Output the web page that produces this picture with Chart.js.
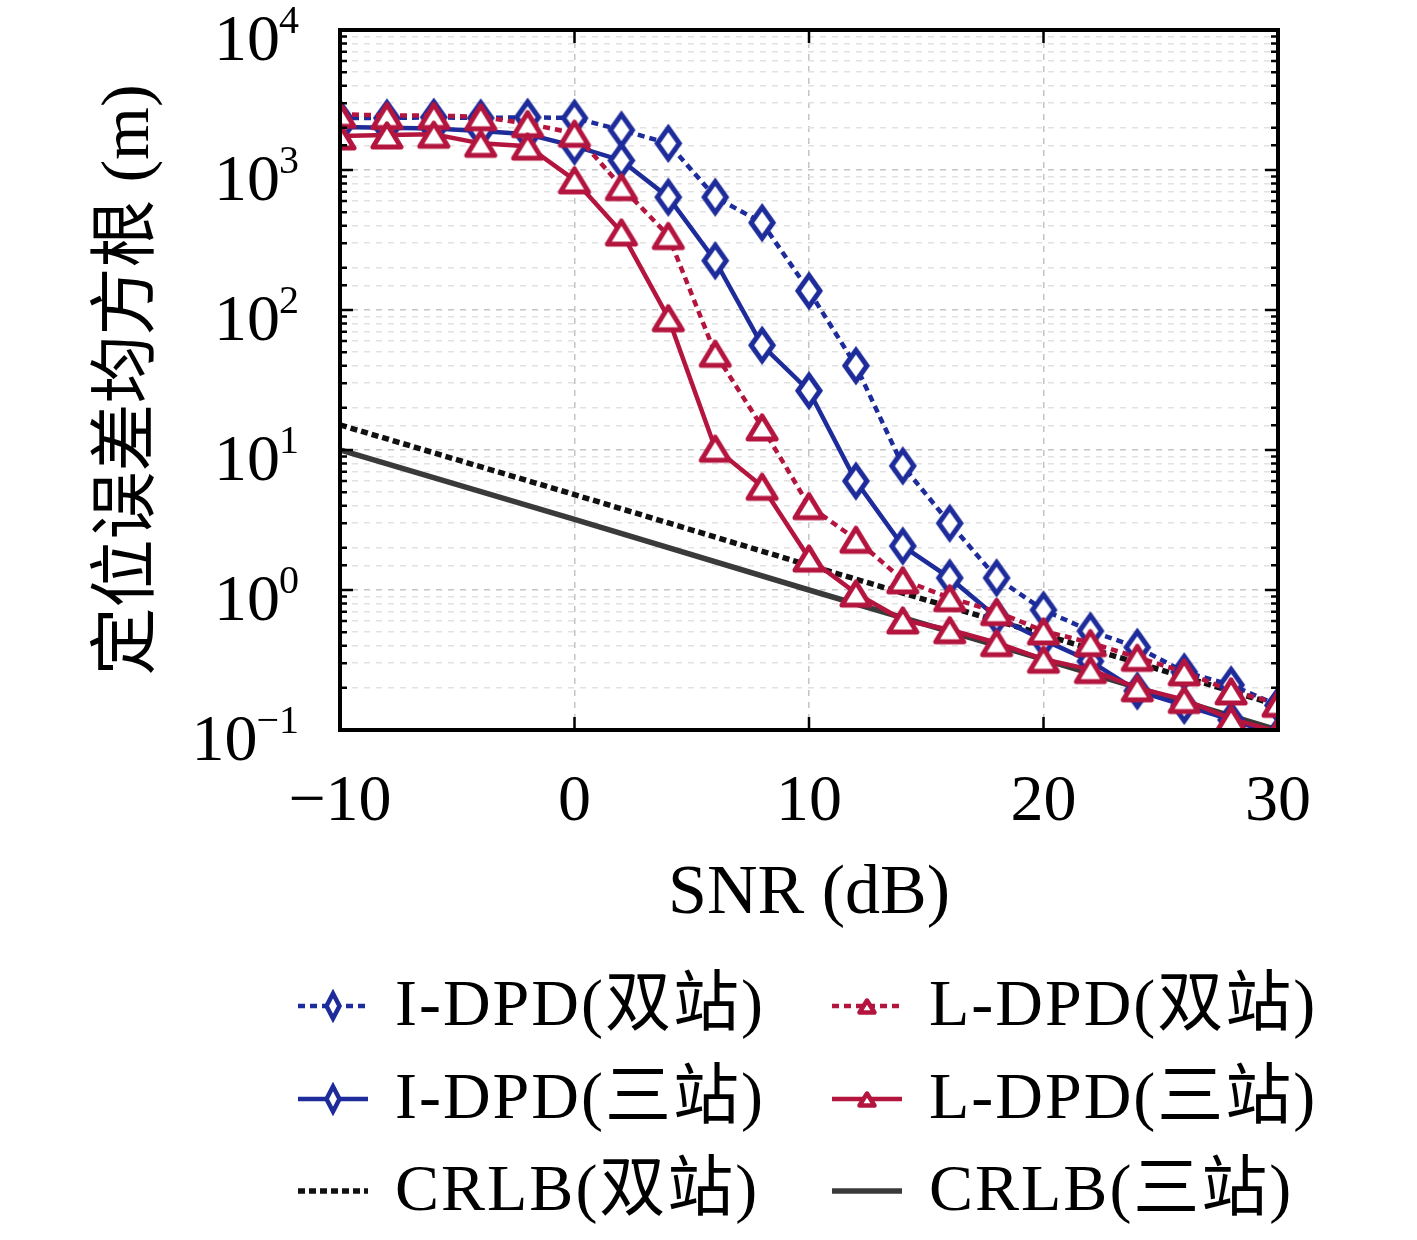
<!DOCTYPE html>
<html>
<head>
<meta charset="utf-8">
<script src="https://cdn.jsdelivr.net/npm/chart.js@4.4.1/dist/chart.umd.min.js"></script>
<style>
  html, body { margin: 0; padding: 0; background: #fff; }
  canvas { display: block; }
</style>
</head>
<body>
<canvas id="rmseChart" width="1417" height="1240"></canvas>
<script>
// SNR (dB) sample points
const snr = [-10, -8, -6, -4, -2, 0, 2, 4, 6, 8, 10, 12, 14, 16, 18, 20, 22, 24, 26, 28, 30];

// RMSE values (m)
const iDpdTwo   = [2350, 2350, 2380, 2350, 2380, 2350, 1930, 1550, 640, 420, 137, 40, 7.7, 3.0, 1.22, 0.72, 0.51, 0.39, 0.26, 0.21, 0.15];
const iDpdThree = [2030, 2000, 1980, 1900, 1800, 1480, 1170, 640, 225, 56, 26.5, 6.0, 2.06, 1.22, 0.64, 0.44, 0.31, 0.19, 0.15, 0.118, 0.092];
const lDpdTwo   = [2500, 2450, 2450, 2400, 2140, 1830, 760, 340, 49, 14.6, 4.0, 2.3, 1.18, 0.88, 0.70, 0.51, 0.42, 0.33, 0.26, 0.19, 0.155];
const lDpdThree = [1750, 1780, 1800, 1550, 1480, 850, 360, 88, 10.3, 5.5, 1.69, 0.95, 0.61, 0.52, 0.42, 0.32, 0.27, 0.20, 0.165, 0.12, 0.097];

// CRLB curves (straight lines on log axis)
const crlbSnr   = [-10, 0, 10, 20, 30];
const crlbTwo   = [15.1, 4.8, 1.5, 0.48, 0.15];
const crlbThree = [10, 3.2, 1.0, 0.32, 0.1];

const xTicks = [-10, 0, 10, 20, 30];
const yDecades = [-1, 0, 1, 2, 3, 4];

const blue = '#1d2c9a';
const red = '#b4153f';
const serif = '"Liberation Serif", "DejaVu Serif", "Noto Sans CJK SC", serif';

function makeDiamond(w, h, color, lw) {
  const c = document.createElement('canvas');
  c.width = w + lw * 2;
  c.height = h + lw * 2;
  const g = c.getContext('2d');
  g.beginPath();
  g.moveTo(c.width / 2, lw);
  g.lineTo(c.width - lw, c.height / 2);
  g.lineTo(c.width / 2, c.height - lw);
  g.lineTo(lw, c.height / 2);
  g.closePath();
  g.fillStyle = '#fff';
  g.fill();
  g.lineWidth = lw;
  g.strokeStyle = color;
  g.stroke();
  return c;
}

function makeTriangle(w, h, color, lw) {
  const c = document.createElement('canvas');
  c.width = w + lw * 2;
  c.height = h + lw * 2;
  const g = c.getContext('2d');
  g.beginPath();
  g.moveTo(c.width / 2, lw + 1);
  g.lineTo(c.width - lw, c.height - lw);
  g.lineTo(lw, c.height - lw);
  g.closePath();
  g.fillStyle = '#fff';
  g.fill();
  g.lineWidth = lw;
  g.lineJoin = 'round';
  g.strokeStyle = color;
  g.stroke();
  return c;
}

const diamondBig = makeDiamond(22, 31, blue, 5);
const triangleBig = makeTriangle(28, 24, red, 5);
const diamondSmall = makeDiamond(13, 25, blue, 4.5);
const triangleSmall = makeTriangle(15, 13, red, 4.5);

const toPoints = (xs, ys) => xs.map((x, i) => ({ x: x, y: ys[i] }));

// order: lower value drawn on top
const series = [
  { label: 'I-DPD(双站)', data: toPoints(snr, iDpdTwo), color: blue, dash: [7, 5], width: 4.5, marker: diamondBig, legendMarker: diamondSmall, order: 3 },
  { label: 'L-DPD(双站)', data: toPoints(snr, lDpdTwo), color: red, dash: [7, 5], width: 4.5, marker: triangleBig, legendMarker: triangleSmall, order: 1 },
  { label: 'I-DPD(三站)', data: toPoints(snr, iDpdThree), color: blue, dash: [], width: 4.5, marker: diamondBig, legendMarker: diamondSmall, order: 2 },
  { label: 'L-DPD(三站)', data: toPoints(snr, lDpdThree), color: red, dash: [], width: 4.5, marker: triangleBig, legendMarker: triangleSmall, order: 0 },
  { label: 'CRLB(双站)', data: toPoints(crlbSnr, crlbTwo), color: '#111', dash: [7, 4], width: 5.5, marker: false, legendMarker: null, order: 5 },
  { label: 'CRLB(三站)', data: toPoints(crlbSnr, crlbThree), color: '#3a3a3a', dash: [], width: 5.5, marker: false, legendMarker: null, order: 4 }
];

const datasets = series.map(s => ({
  label: s.label,
  data: s.data,
  borderColor: s.color,
  borderWidth: s.width,
  borderDash: s.dash,
  pointStyle: s.marker || 'circle',
  pointRadius: s.marker ? 12 : 0,
  pointHoverRadius: s.marker ? 12 : 0,
  backgroundColor: '#fff',
  tension: 0,
  fill: false,
  order: s.order
}));

// frame, inward ticks, y labels with exponents, legend
const decorPlugin = {
  id: 'decor',
  afterDraw(chart) {
    const { ctx, chartArea: a } = chart;
    const xs = chart.scales.x;
    const ys = chart.scales.y;
    ctx.save();

    // inward tick marks
    ctx.strokeStyle = '#000';
    ctx.lineWidth = 2.5;
    ctx.setLineDash([]);
    xTicks.forEach(v => {
      const px = xs.getPixelForValue(v);
      ctx.beginPath();
      ctx.moveTo(px, a.bottom); ctx.lineTo(px, a.bottom - 13);
      ctx.moveTo(px, a.top); ctx.lineTo(px, a.top + 13);
      ctx.stroke();
    });
    ys.ticks.forEach(t => {
      const py = ys.getPixelForValue(t.value);
      const e = Math.log10(t.value);
      const len = Math.abs(e - Math.round(e)) < 1e-6 ? 13 : 7;
      ctx.beginPath();
      ctx.moveTo(a.left, py); ctx.lineTo(a.left + len, py);
      ctx.moveTo(a.right, py); ctx.lineTo(a.right - len, py);
      ctx.stroke();
    });

    // box
    ctx.lineWidth = 4;
    ctx.strokeRect(a.left, a.top, a.right - a.left, a.bottom - a.top);

    // y tick labels 10^n
    ctx.fillStyle = '#000';
    yDecades.forEach(e => {
      const py = ys.getPixelForValue(Math.pow(10, e));
      const expText = e < 0 ? '\u2212' + Math.abs(e) : String(e);
      ctx.font = '40px ' + serif;
      const expW = ctx.measureText(expText).width;
      const expRight = a.left - 41;
      ctx.textAlign = 'left';
      ctx.textBaseline = 'alphabetic';
      ctx.fillText(expText, expRight - expW, py + 3);
      ctx.font = '66px ' + serif;
      ctx.textAlign = 'right';
      ctx.fillText('10', expRight - expW + 1, py + 30);
    });

    // legend, two columns by three rows
    const cols = [298, 832];
    const rows = [1006, 1099, 1191];
    chart.data.datasets.forEach((ds, i) => {
      const s = series[i];
      const x0 = cols[i % 2];
      const y0 = rows[Math.floor(i / 2)];
      ctx.strokeStyle = s.color;
      ctx.lineWidth = s.width;
      ctx.setLineDash(s.dash);
      ctx.beginPath();
      ctx.moveTo(x0, y0); ctx.lineTo(x0 + 70, y0);
      ctx.stroke();
      ctx.setLineDash([]);
      if (s.legendMarker) {
        const m = s.legendMarker;
        ctx.drawImage(m, x0 + 35 - m.width / 2, y0 - m.height / 2);
      }
      ctx.fillStyle = '#000';
      ctx.font = '66px ' + serif;
      ctx.letterSpacing = '2px';
      ctx.textAlign = 'left';
      ctx.textBaseline = 'middle';
      ctx.fillText(ds.label, x0 + 97, y0 + 2);
      ctx.letterSpacing = '0px';
    });

    ctx.restore();
  }
};

const ctx = document.getElementById('rmseChart').getContext('2d');
new Chart(ctx, {
  type: 'line',
  data: { datasets: datasets },
  options: {
    responsive: false,
    animation: false,
    layout: { padding: { left: 0, top: 30, right: 139, bottom: 310 } },
    plugins: {
      legend: { display: false },
      tooltip: { enabled: false }
    },
    scales: {
      x: {
        type: 'linear',
        min: -10,
        max: 30,
        afterBuildTicks: scale => { scale.ticks = xTicks.map(v => ({ value: v })); },
        afterFit: scale => { scale.height = 200; },
        ticks: {
          color: '#000',
          font: { family: serif, size: 66 },
          padding: 33,
          callback: v => (v < 0 ? '\u2212' + Math.abs(v) : String(v))
        },
        grid: { color: '#c4c4c4', lineWidth: 1.5, drawTicks: false },
        border: { display: false, dash: [6, 6] },
        title: {
          display: true,
          text: 'SNR (dB)',
          color: '#000',
          font: { family: serif, size: 70, lineHeight: 1 },
          padding: { top: 0, bottom: 0 }
        }
      },
      y: {
        type: 'logarithmic',
        min: 0.1,
        max: 10000,
        afterFit: scale => { scale.width = 340; },
        ticks: {
          autoSkip: false,
          callback: () => ''
        },
        grid: {
          color: ctx2 => {
            const v = ctx2.tick ? ctx2.tick.value : 1;
            const e = Math.log10(v);
            return Math.abs(e - Math.round(e)) < 1e-6 ? '#c4c4c4' : '#e2e2e2';
          },
          lineWidth: 1.5,
          drawTicks: false
        },
        border: { display: false, dash: [6, 6] },
        title: {
          display: true,
          text: '定位误差均方根 (m)',
          color: '#000',
          font: { family: serif, size: 68, lineHeight: 1 },
          padding: { top: 96, bottom: 0 }
        }
      }
    }
  },
  plugins: [decorPlugin]
});
</script>
</body>
</html>
